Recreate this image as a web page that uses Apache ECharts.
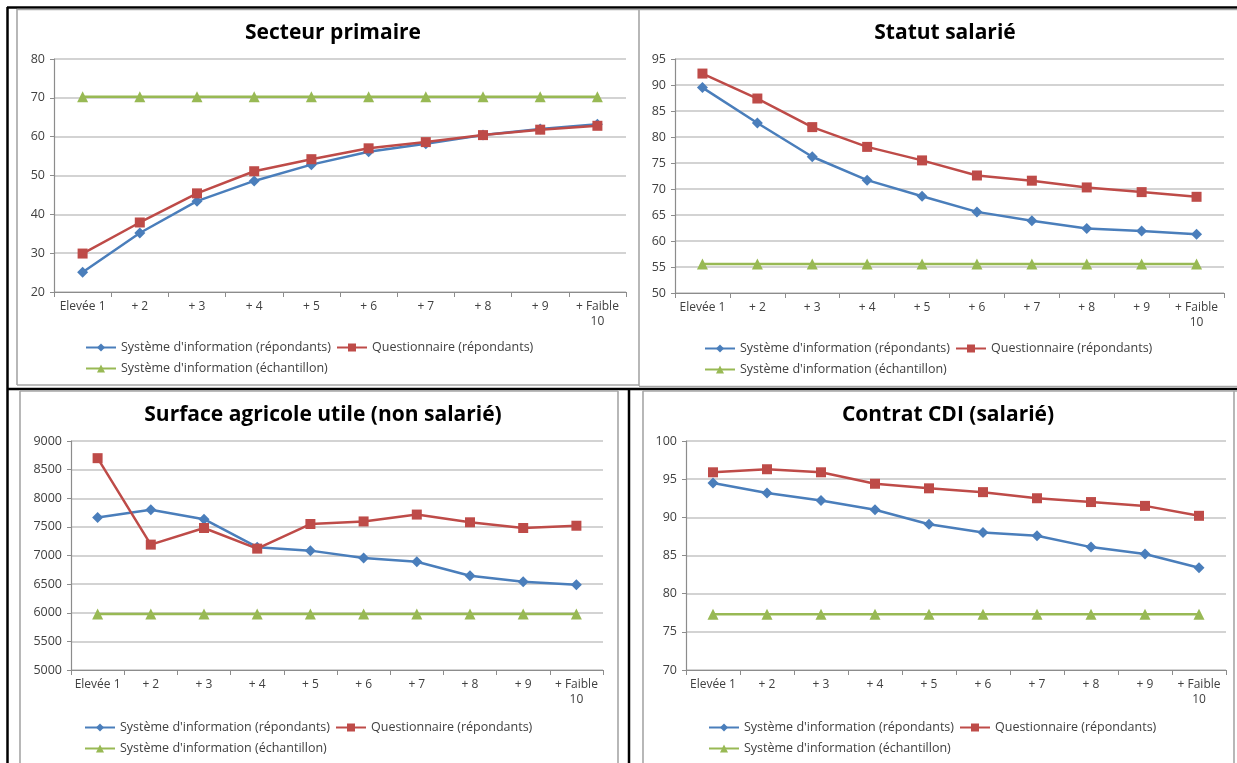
<!DOCTYPE html>
<html>
<head>
<meta charset="utf-8">
<script src="https://cdn.jsdelivr.net/npm/echarts@6/dist/echarts.min.js"></script>
<style>
  html, body { margin: 0; padding: 0; background: #ffffff; }
  #chart { width: 1237px; height: 763px; }
</style>
</head>
<body>
<div id="chart"></div>
<script>
// Categories (deciles from "Elevée" to "Faible")
const categories = ["Elevée 1", "+ 2", "+ 3", "+ 4", "+ 5", "+ 6", "+ 7", "+ 8", "+ 9", "+ Faible\n10"];

// Series names
const nameSIRep = "Système d'information (répondants)";
const nameQuestRep = "Questionnaire (répondants)";
const nameSIEch = "Système d'information (échantillon)";

// Panel titles
const panelTitles = ["Secteur primaire", "Statut salarié", "Surface agricole utile (non salarié)", "Contrat CDI (salarié)"];

// Secteur primaire
const secteurSIRep = [25.1, 35.2, 43.4, 48.6, 52.8, 56.1, 58.2, 60.4, 62.0, 63.2];
const secteurQuestRep = [29.9, 37.9, 45.4, 51.1, 54.2, 57.0, 58.6, 60.4, 61.8, 62.8];
const secteurSIEch = [70.3, 70.3, 70.3, 70.3, 70.3, 70.3, 70.3, 70.3, 70.3, 70.3];

// Statut salarié
const statutSIRep = [89.5, 82.7, 76.2, 71.7, 68.6, 65.6, 63.9, 62.4, 61.9, 61.3];
const statutQuestRep = [92.2, 87.4, 81.9, 78.1, 75.5, 72.6, 71.6, 70.3, 69.4, 68.5];
const statutSIEch = [55.6, 55.6, 55.6, 55.6, 55.6, 55.6, 55.6, 55.6, 55.6, 55.6];

// Surface agricole utile (non salarié)
const sauSIRep = [7665, 7800, 7635, 7145, 7085, 6955, 6890, 6645, 6540, 6490];
const sauQuestRep = [8700, 7190, 7480, 7120, 7550, 7595, 7715, 7580, 7480, 7520];
const sauSIEch = [5980, 5980, 5980, 5980, 5980, 5980, 5980, 5980, 5980, 5980];

// Contrat CDI (salarié)
const cdiSIRep = [94.5, 93.2, 92.2, 91.0, 89.1, 88.0, 87.6, 86.1, 85.2, 83.4];
const cdiQuestRep = [95.9, 96.3, 95.9, 94.4, 93.8, 93.3, 92.5, 92.0, 91.5, 90.2];
const cdiSIEch = [77.3, 77.3, 77.3, 77.3, 77.3, 77.3, 77.3, 77.3, 77.3, 77.3];

// Value axis ranges per panel
const axisMin = [20, 50, 5000, 70];
const axisMax = [80, 95, 9000, 100];
const axisStep = [10, 5, 500, 5];

const panelData = [
  [secteurSIRep, secteurQuestRep, secteurSIEch],
  [statutSIRep, statutQuestRep, statutSIEch],
  [sauSIRep, sauQuestRep, sauSIEch],
  [cdiSIRep, cdiQuestRep, cdiSIEch]
];

// Layout of the four panels
const layout = [
  { grid: { left: 54, top: 59, width: 572, height: 233 }, titleX: 328, titleY: 18, legendX: 85, legendY: 341 },
  { grid: { left: 675, top: 59, width: 549, height: 234 }, titleX: 940, titleY: 18, legendX: 704, legendY: 342 },
  { grid: { left: 71, top: 441, width: 532, height: 229 }, titleX: 318, titleY: 400, legendX: 84, legendY: 721 },
  { grid: { left: 686, top: 441, width: 540, height: 229 }, titleX: 943, titleY: 400, legendX: 708, legendY: 721 }
];

const FONT = "'Open Sans', 'Liberation Sans', sans-serif";
const colors = ['#4A7EBB', '#BE4B48', '#98B954'];
const symbols = ['diamond', 'rect', 'triangle'];
const symbolSizes = [11, 10, 11];
const names = [nameSIRep, nameQuestRep, nameSIEch];

const option = {
  animation: false,
  backgroundColor: '#ffffff',
  title: [],
  legend: [],
  grid: [],
  xAxis: [],
  yAxis: [],
  series: [],
  graphic: []
};

layout.forEach((p, i) => {
  option.grid.push(Object.assign({ containLabel: false }, p.grid));
  option.title.push({
    text: panelTitles[i],
    left: p.titleX,
    top: p.titleY,
    textAlign: 'center',
    textStyle: { fontFamily: FONT, fontSize: 21, fontWeight: 'bold', color: '#000000' }
  });
  const legendText = { fontFamily: FONT, fontSize: 12.5, color: '#404040' };
  option.legend.push({
    data: [nameSIRep, nameQuestRep],
    left: p.legendX, top: p.legendY,
    padding: 0,
    itemWidth: 30, itemHeight: 10, itemGap: 5,
    selectedMode: false,
    textStyle: legendText
  });
  option.legend.push({
    data: [nameSIEch],
    left: p.legendX, top: p.legendY + 21,
    padding: 0,
    itemWidth: 30, itemHeight: 10, itemGap: 5,
    selectedMode: false,
    textStyle: legendText
  });
  option.xAxis.push({
    type: 'category',
    gridIndex: i,
    data: categories,
    boundaryGap: true,
    axisLine: { show: true, lineStyle: { color: '#8C8C8C', width: 1.2 } },
    axisTick: { show: true, length: 5, alignWithLabel: false, lineStyle: { color: '#8C8C8C' } },
    axisLabel: { interval: 0, margin: 7, fontFamily: FONT, fontSize: 12, color: '#404040', lineHeight: 15, align: 'center' },
    splitLine: { show: false }
  });
  option.yAxis.push({
    type: 'value',
    gridIndex: i,
    min: axisMin[i], max: axisMax[i], interval: axisStep[i],
    axisLine: { show: true, lineStyle: { color: '#8C8C8C', width: 1.2 } },
    axisTick: { show: true, length: 4, lineStyle: { color: '#8C8C8C' } },
    axisLabel: { margin: 9, fontFamily: FONT, fontSize: 12.5, color: '#404040', formatter: (v) => String(v) },
    splitLine: { show: true, lineStyle: { color: '#C4C4C4', width: 1.5 } }
  });
  panelData[i].forEach((values, k) => {
    option.series.push({
      type: 'line',
      name: names[k],
      xAxisIndex: i,
      yAxisIndex: i,
      data: values,
      symbol: symbols[k],
      symbolSize: symbolSizes[k],
      showSymbol: true,
      lineStyle: { color: colors[k], width: 2.5 },
      itemStyle: { color: colors[k] },
      z: 2 + k
    });
  });
});

// Panel frames
const black = { stroke: '#000000', lineWidth: 2.5 };
const grey = { stroke: '#A6A6A6', lineWidth: 1.6 };
function seg(x1, y1, x2, y2, style) {
  return { type: 'line', silent: true, shape: { x1, y1, x2, y2 }, style: Object.assign({}, style), z: 10 };
}
option.graphic = [
  // outer and separating black rules
  seg(7, 7.5, 1237, 7.5, black),
  seg(7.5, 7, 7.5, 763, black),
  seg(7, 389, 1237, 389, black),
  seg(629, 389, 629, 763, black),
  // grey chart-area borders, top row
  seg(17, 9.5, 1237, 9.5, grey),
  seg(17, 9, 17, 385, grey),
  seg(17, 385, 639, 385, grey),
  seg(639, 9, 639, 386, grey),
  seg(639, 386.5, 1237, 386.5, grey),
  // grey chart-area borders, bottom row
  seg(20, 391, 20, 763, grey),
  seg(618, 391, 618, 763, grey),
  seg(643, 391, 643, 763, grey),
  seg(20, 391, 618, 391, grey),
  seg(643, 391, 1237, 391, grey),
  seg(1234, 391, 1234, 763, grey)
];

const chart = echarts.init(document.getElementById('chart'), null, { renderer: 'canvas' });
chart.setOption(option);
</script>
</body>
</html>
